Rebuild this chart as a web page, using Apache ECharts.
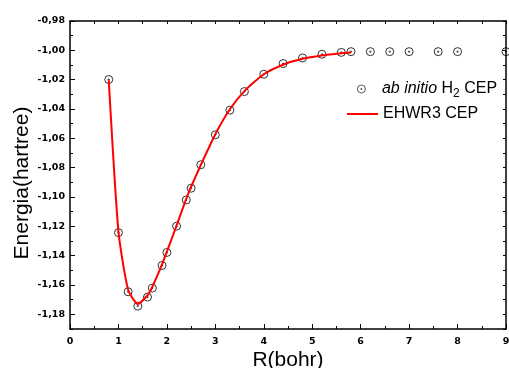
<!DOCTYPE html>
<html>
<head>
<meta charset="utf-8">
<script src="https://cdn.jsdelivr.net/npm/echarts@6/dist/echarts.min.js"></script>
<style>html,body{margin:0;padding:0;background:#fff;}#c{width:509px;height:368px;}</style>
</head>
<body>
<div id="c"></div>
<script>
// ab initio H2 CEP points
var abR = [0.8, 1.0, 1.2, 1.4, 1.6, 1.7, 1.9, 2.0, 2.2, 2.4, 2.5, 2.7, 3.0, 3.3, 3.6, 4.0, 4.4, 4.8, 5.2, 5.6, 5.8, 6.2, 6.6, 7.0, 7.6, 8.0, 9.0];
var abE = [-1.0199, -1.1243, -1.1646, -1.1744, -1.1682, -1.1621, -1.1467, -1.1378, -1.1199, -1.1020, -1.0940, -1.0780, -1.0576, -1.0408, -1.0281, -1.0163, -1.0090, -1.0052, -1.0027, -1.0014, -1.0009, -1.0009, -1.0009, -1.0009, -1.0009, -1.0009, -1.0009];
// EHWR3 CEP fitted curve
var fitR = [0.8, 1.0, 1.2, 1.4, 1.6, 1.7, 1.9, 2.0, 2.2, 2.4, 2.5, 2.7, 3.0, 3.3, 3.6, 4.0, 4.4, 4.8, 5.2, 5.6, 5.8];
var fitE = [-1.0203, -1.1235, -1.1633, -1.1729, -1.1670, -1.1612, -1.1460, -1.1372, -1.1195, -1.1012, -1.0930, -1.0782, -1.0572, -1.0402, -1.0278, -1.0163, -1.0098, -1.0058, -1.0035, -1.0020, -1.0015];
var yMajorTicks = [-1.18, -1.16, -1.14, -1.12, -1.10, -1.08, -1.06, -1.04, -1.02, -1.00, -0.98];
var seriesNames = ['ab initio H2 CEP', 'EHWR3 CEP'];

var FONT = 'Liberation Sans, Arial, Helvetica, sans-serif';
var TICKFONT = 'DejaVu Sans, Verdana, sans-serif';
var chart = echarts.init(document.getElementById('c'));
function zip(a, b) { return a.map(function (v, i) { return [v, b[i]]; }); }
var dotCircle = 'path://M0,-10A10,10 0 1,1 0,10A10,10 0 1,1 0,-10Z M0,-1.6A1.6,1.6 0 1,1 0,1.6A1.6,1.6 0 1,1 0,-1.6Z';
var axisLine = { show: true, onZero: false, lineStyle: { color: '#000', width: 1.5 } };
var yMin = -1.19, yMax = -0.98;

chart.setOption({
  animation: false,
  backgroundColor: '#fff',
  grid: { left: 70, right: 3, top: 21, bottom: 39, containLabel: false, outerBoundsMode: 'none' },
  legend: [{
    data: [{ name: seriesNames[0], icon: dotCircle, itemStyle: { color: 'rgba(0,0,0,0)', borderColor: '#000', borderWidth: 0.8 } }],
    left: 357, top: 81, padding: 0,
    itemWidth: 31, itemHeight: 8, itemGap: 0,
    textStyle: {
      fontFamily: FONT, fontSize: 16, color: '#000',
      rich: {
        i: { fontFamily: FONT, fontSize: 16, fontStyle: 'italic', color: '#000', lineHeight: 22 },
        n: { fontFamily: FONT, fontSize: 16, color: '#000', lineHeight: 22 },
        s: { fontFamily: FONT, fontSize: 12, color: '#000', verticalAlign: 'bottom', lineHeight: 22 }
      }
    },
    formatter: function () { return '{i|ab initio} {n|H}{s|2}{n| CEP}'; }
  }, {
    data: [{ name: seriesNames[1], icon: 'rect' }],
    left: 347, top: 106, padding: 0,
    itemWidth: 31, itemHeight: 2,
    textStyle: { fontFamily: FONT, fontSize: 16, color: '#000' }
  }],
  xAxis: [{
    type: 'value', position: 'bottom', min: 0, max: 9, interval: 1,
    name: 'R(bohr)', nameLocation: 'middle', nameGap: 21, nameMoveOverlap: false,
    nameTextStyle: { fontFamily: FONT, fontSize: 21, color: '#000' },
    axisLine: axisLine,
    axisTick: { show: true, inside: true, length: 5, lineStyle: { color: '#000', width: 1 } },
    minorTick: { show: true, splitNumber: 2, length: 3, lineStyle: { color: '#000', width: 1 } },
    axisLabel: { fontFamily: TICKFONT, fontSize: 9.5, fontWeight: 'bold', color: '#000', margin: 8 },
    splitLine: { show: false }
  }, {
    type: 'value', position: 'top', min: 0, max: 9, interval: 1,
    axisLine: axisLine,
    axisTick: { show: true, inside: true, length: 3, lineStyle: { color: '#000', width: 1 } },
    minorTick: { show: true, splitNumber: 2, length: 3, lineStyle: { color: '#000', width: 1 } },
    axisLabel: { show: false }, splitLine: { show: false }
  }],
  yAxis: [{
    type: 'value', position: 'left', min: yMin, max: yMax, interval: 0.01,
    name: 'Energia(hartree)', nameLocation: 'middle', nameGap: 37, nameMoveOverlap: false,
    nameTextStyle: { fontFamily: FONT, fontSize: 21, color: '#000', padding: [0, 16, 0, 0] },
    axisLine: axisLine,
    axisTick: { show: true, inside: true, length: 5, customValues: yMajorTicks, lineStyle: { color: '#000', width: 1 } },
    axisLabel: {
      fontFamily: TICKFONT, fontSize: 9.5, fontWeight: 'bold', color: '#000', margin: 5,
      customValues: yMajorTicks,
      formatter: function (v) { return v.toFixed(2).replace('.', ','); }
    },
    splitLine: { show: false }
  }, {
    type: 'value', position: 'left', min: yMin, max: yMax, interval: 0.01,
    axisLine: { show: false },
    axisTick: { show: true, inside: true, length: 3, lineStyle: { color: '#000', width: 1 } },
    axisLabel: { show: false }, splitLine: { show: false }
  }, {
    type: 'value', position: 'right', min: yMin, max: yMax, interval: 0.01,
    axisLine: axisLine,
    axisTick: { show: true, inside: true, length: 3, lineStyle: { color: '#000', width: 1 } },
    axisLabel: { show: false }, splitLine: { show: false }
  }],
  series: [{
    name: seriesNames[0], type: 'scatter', xAxisIndex: 0, yAxisIndex: 0,
    data: zip(abR, abE),
    symbol: dotCircle, symbolSize: 8, symbolKeepAspect: true,
    itemStyle: { color: 'rgba(0,0,0,0)', borderColor: '#000', borderWidth: 1 },
    z: 2
  }, {
    name: seriesNames[1], type: 'line', xAxisIndex: 0, yAxisIndex: 0,
    data: zip(fitR, fitE),
    showSymbol: false, symbol: 'none', smooth: 0.2,
    lineStyle: { color: '#ff0000', width: 2 },
    itemStyle: { color: '#ff0000' },
    z: 3
  }]
});
</script>
</body>
</html>
